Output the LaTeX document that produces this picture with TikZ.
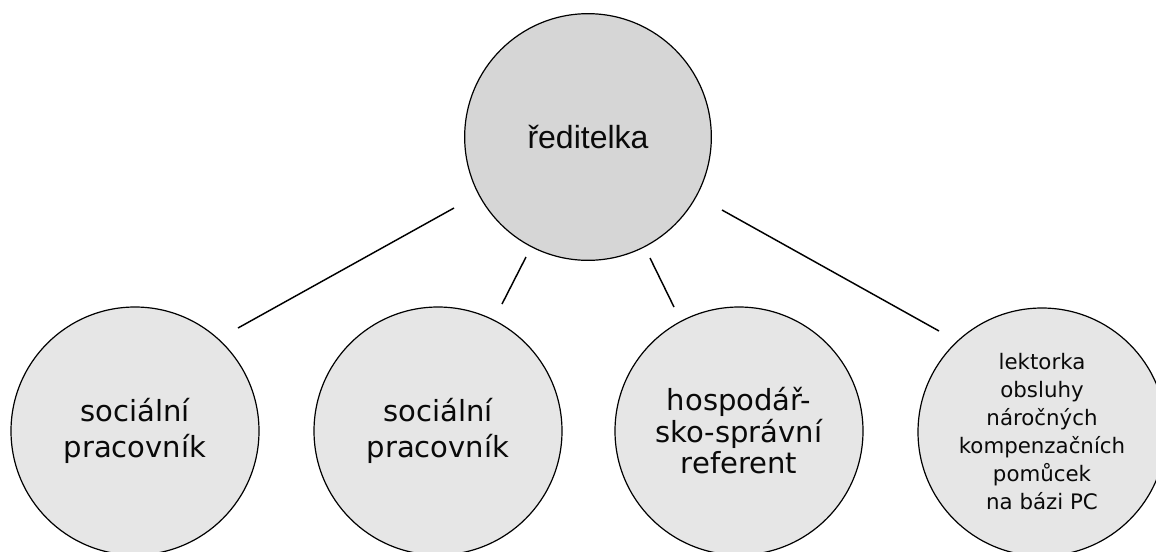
\documentclass[tikz,border=0pt]{standalone}
\usepackage{fontspec}
\setmainfont{DejaVu Sans}
\newfontfamily\arialfont{Liberation Sans}
\usetikzlibrary{calc}
\definecolor{topfill}{RGB}{214,214,214}
\definecolor{lowfill}{RGB}{230,230,230}
\definecolor{txt}{RGB}{10,10,10}
\begin{document}
\begin{tikzpicture}[x=0.75pt,y=-0.75pt,
  role/.style={circle, draw=black, line width=0.9pt, fill=lowfill, minimum size=186pt,
    inner sep=0pt, align=center, text=txt},
  bigtxt/.style={font=\fontsize{21.8}{27}\selectfont},
  midtxt/.style={font=\fontsize{21.8}{23.6}\selectfont},
  smalltxt/.style={font=\fontsize{16}{21}\selectfont},
  link/.style={draw=black, line width=1.1pt}]
\useasboundingbox (0,0) rectangle (1156,551);
\clip (0,0) rectangle (1156,551);
\node[role, fill=topfill, minimum size=185pt, font=\arialfont\fontsize{24}{28}\selectfont] (top) at (588,137) {ředitelka};
\node[role, bigtxt] (s1) at (135,431) {sociální\\pracovník};
\node[role, bigtxt] (s2) at (438,431) {sociální\\pracovník};
\node[role, midtxt] (s3) at (739,431) {hospodář-\\sko-správní\\referent};
\node[role, smalltxt] (s4) at (1042,432) {lektorka\\obsluhy\\náročných\\kompenzačních\\pomůcek\\na bázi PC};
\draw[link] ($(top)+(-134,71)$) -- ($(s1)+(103,-103)$);
\draw[link] ($(top)+(-62,120)$) -- ($(s2)+(64,-127)$);
\draw[link] ($(top)+(62,121)$) -- ($(s3)+(-65,-124)$);
\draw[link] ($(top)+(134,73)$) -- ($(s4)+(-103,-101)$);
\end{tikzpicture}
\end{document}
